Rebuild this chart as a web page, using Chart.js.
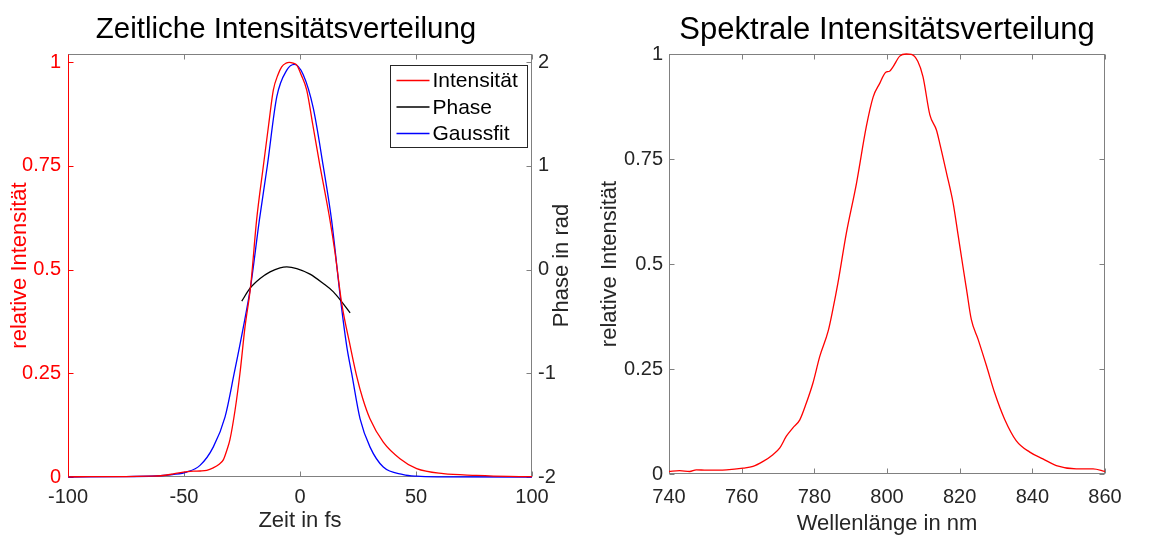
<!DOCTYPE html>
<html>
<head>
<meta charset="utf-8">
<script src="https://cdn.jsdelivr.net/npm/chart.js@4.4.1/dist/chart.umd.min.js"></script>
<style>
  html, body { margin: 0; padding: 0; background: #fff; }
  #wrap { position: relative; width: 1170px; height: 538px; }
  canvas { position: absolute; top: 0; }
  #zeit { left: 0; }
  #spektrum { left: 585px; }
</style>
</head>
<body>
<div id="wrap">
  <canvas id="zeit" width="585" height="538"></canvas>
  <canvas id="spektrum" width="585" height="538"></canvas>
</div>
<script>
'use strict';

// tick labels
var timeTicks = [-100, -50, 0, 50, 100];
var intensityTicks = [0, 0.25, 0.5, 0.75, 1];
var phaseTicks = [-2, -1, 0, 1, 2];
var wavelengthTicks = [740, 760, 780, 800, 820, 840, 860];
var spectrumTicks = [0, 0.25, 0.5, 0.75, 1];

// Intensität (measured pulse)
var intensityTime = [-100, -90, -75, -65, -60, -55, -50.3, -46, -43, -40.2, -37.4, -35, -33, -31.5, -30.2, -28,
  -25.9, -23.7, -21.3, -18.7, -15.8, -13.5, -11.5, -9.5, -7.9, -6, -4.6, -3, -1.4, 0.5, 2.9, 5.5, 8.6,
  10.8, 12.9, 15, 18, 21.6, 24.4, 27, 30.2, 35.9, 43.1, 50.3, 61.8, 76, 90, 100];
var intensityValues = [0.0005, 0.0008, 0.001, 0.002, 0.003, 0.007, 0.012, 0.014, 0.0145, 0.016, 0.022, 0.03, 0.042, 0.065, 0.09, 0.161,
  0.249, 0.362, 0.459, 0.62, 0.75, 0.85, 0.933, 0.97, 0.989, 0.998, 1.0, 0.998, 0.993, 0.97, 0.933, 0.85, 0.75,
  0.685, 0.62, 0.545, 0.418, 0.317, 0.244, 0.19, 0.14, 0.084, 0.044, 0.02, 0.008, 0.004, 0.0015, 0.001];

// Phase (right axis)
var phaseTime = [-25.1, -21.6, -17.2, -12.9, -8.6, -5.7, -1.4, 4.3, 10.0, 14.4, 18.0, 21.6];
var phaseValues = [-0.304, -0.181, -0.085, -0.021, 0.018, 0.027, 0.011, -0.043, -0.133, -0.214, -0.31, -0.416];

// Gaussfit
var gaussTime = [-100, -75, -60.3, -55, -48.8, -43.1, -37.4, -32.3, -28.4, -24.4, -21.3, -17.5, -14.1, -10, -5.7,
  -2.4, 1.4, 5.7, 10, 13.6, 17.7, 20.1, 22.3, 25.9, 30.2, 35.9, 44.5, 50.3, 60, 100];
var gaussValues = [0, 0.001, 0.003, 0.006, 0.012, 0.028, 0.072, 0.145, 0.249, 0.362, 0.459, 0.62, 0.75, 0.917, 0.981,
  0.995, 0.97, 0.89, 0.75, 0.62, 0.418, 0.317, 0.249, 0.14, 0.072, 0.024, 0.006, 0.002, 0.0005, 0];

// spectrum
var wavelength = [740, 742.9, 745.7, 747.5, 750.3, 755.8, 760.4, 763.1, 765.9, 768.6, 770.5, 772.3, 774.1, 776.0,
  777.8, 779.6, 781.5, 783.8, 785.1, 786.5, 788.8, 791.6, 794.3, 796.2, 798.0, 799.6, 800.7, 801.7, 803.5, 805.3,
  806.7, 808.5, 809.9, 811.8, 813.6, 814.5, 816.4, 818.2, 819.5, 820.9, 821.9, 823.2, 825.1, 827.4, 829.6, 832.4,
  835.6, 839.3, 842.9, 846.6, 852.1, 856.7, 860];
var spectrum = [0.006, 0.008, 0.006, 0.010, 0.009, 0.010, 0.014, 0.018, 0.030, 0.046, 0.062, 0.090, 0.110, 0.129,
  0.169, 0.216, 0.280, 0.340, 0.392, 0.455, 0.573, 0.692, 0.827, 0.898, 0.930, 0.956, 0.959, 0.970, 0.995, 1.0,
  0.999, 0.982, 0.946, 0.855, 0.819, 0.788, 0.716, 0.645, 0.573, 0.494, 0.439, 0.368, 0.320, 0.257, 0.194, 0.130,
  0.079, 0.052, 0.036, 0.020, 0.012, 0.012, 0.006];

var FONT = '"Liberation Sans", Arial, Helvetica, sans-serif';
var TEXT = '#262626';
var FRAME = '#808080';

function pairs(xs, ys) {
  return xs.map(function (x, i) { return {x: x, y: ys[i]}; });
}

function fixedTicks(list) {
  return function (scale) {
    scale.ticks = list.map(function (v) { return {value: v}; });
  };
}

// box round the axes, ticks pointing inwards
var frameAndTicks = {
  id: 'frameAndTicks',
  beforeDatasetsDraw: function (chart, args, opts) {
    var ctx = chart.ctx, a = chart.chartArea;
    var L = Math.round(a.left) + 0.5, R = Math.round(a.right) - 0.5;
    var T = Math.round(a.top) + 0.5, B = Math.round(a.bottom) - 0.5;
    ctx.save();
    ctx.lineWidth = 1;
    opts.marks.forEach(function (m) {
      var s = chart.scales[m.scale];
      ctx.strokeStyle = m.color;
      ctx.beginPath();
      s.ticks.forEach(function (t) {
        var p = Math.round(s.getPixelForValue(t.value)) + 0.5;
        m.sides.forEach(function (side) {
          if (side === 'bottom') { ctx.moveTo(p, B); ctx.lineTo(p, B - 5); }
          if (side === 'top') { ctx.moveTo(p, T); ctx.lineTo(p, T + 5); }
          if (side === 'left') { ctx.moveTo(L, p); ctx.lineTo(L + 5, p); }
          if (side === 'right') { ctx.moveTo(R, p); ctx.lineTo(R - 5, p); }
        });
      });
      ctx.stroke();
    });
    ctx.strokeStyle = FRAME;
    ctx.strokeRect(L, T, R - L, B - T);
    if (opts.leftColor) {
      ctx.strokeStyle = opts.leftColor;
      ctx.beginPath(); ctx.moveTo(L, T); ctx.lineTo(L, B); ctx.stroke();
    }
    ctx.restore();
  }
};

// title above the axes
var axesTitle = {
  id: 'axesTitle',
  afterDraw: function (chart, args, opts) {
    var ctx = chart.ctx, a = chart.chartArea;
    ctx.save();
    ctx.font = opts.size + 'px ' + FONT;
    ctx.fillStyle = '#000';
    ctx.textAlign = 'center';
    ctx.textBaseline = 'middle';
    ctx.fillText(opts.text, (a.left + a.right) / 2 + opts.dx, opts.y);
    ctx.restore();
  }
};

// right axis title, read from bottom to top
var rightTitle = {
  id: 'rightTitle',
  afterDraw: function (chart, args, opts) {
    var ctx = chart.ctx, a = chart.chartArea;
    ctx.save();
    ctx.translate(a.right + opts.offset, (a.top + a.bottom) / 2);
    ctx.rotate(-Math.PI / 2);
    ctx.font = opts.size + 'px ' + FONT;
    ctx.fillStyle = TEXT;
    ctx.textAlign = 'center';
    ctx.textBaseline = 'middle';
    ctx.fillText(opts.text, 0, 0);
    ctx.restore();
  }
};

// legend with a box, top right inside the axes
var boxLegend = {
  id: 'boxLegend',
  afterDraw: function (chart) {
    var ctx = chart.ctx, a = chart.chartArea;
    var sets = chart.data.datasets;
    ctx.save();
    ctx.font = '21px ' + FONT;
    var tw = 0;
    sets.forEach(function (d) { tw = Math.max(tw, ctx.measureText(d.label).width); });
    var w = Math.round(42 + tw + 10), h = 82;
    var x0 = Math.round(a.right - 5 - w) + 0.5, y0 = Math.round(a.top + 11) + 0.5;
    ctx.fillStyle = '#fff';
    ctx.fillRect(x0, y0, w, h);
    ctx.strokeStyle = TEXT;
    ctx.lineWidth = 1;
    ctx.strokeRect(x0, y0, w, h);
    sets.forEach(function (d, i) {
      var cy = y0 + 15 + i * 26.5;
      ctx.strokeStyle = d.borderColor;
      ctx.lineWidth = d.borderWidth;
      ctx.beginPath(); ctx.moveTo(x0 + 6, cy); ctx.lineTo(x0 + 39, cy); ctx.stroke();
      ctx.fillStyle = '#000';
      ctx.textBaseline = 'middle';
      ctx.fillText(d.label, x0 + 42, cy + 1);
    });
    ctx.restore();
  }
};

function line(label, data, color, axis) {
  return {
    label: label, data: data, yAxisID: axis,
    borderColor: color, borderWidth: 1.3, pointRadius: 0,
    fill: false, cubicInterpolationMode: 'monotone', clip: 4
  };
}

function tickFont() { return {family: FONT, size: 20}; }

var noGrid = {display: false, drawTicks: false};

new Chart(document.getElementById('zeit'), {
  type: 'line',
  data: {
    datasets: [
      line('Intensität', pairs(intensityTime, intensityValues), '#ff0000', 'y'),
      line('Phase', pairs(phaseTime, phaseValues), '#000000', 'y1'),
      line('Gaussfit', pairs(gaussTime, gaussValues), '#0000ff', 'y')
    ]
  },
  options: {
    responsive: false, animation: false, devicePixelRatio: 1,
    layout: {padding: {top: 54}},
    scales: {
      x: {
        type: 'linear', min: -100, max: 100,
        afterBuildTicks: fixedTicks(timeTicks),
        afterFit: function (s) { s.height = 61; },
        grid: noGrid, border: {display: false},
        ticks: {color: TEXT, font: tickFont(), padding: 8, maxRotation: 0,
          callback: function (v) { return String(v); }},
        title: {display: true, text: 'Zeit in fs', color: TEXT,
          font: {family: FONT, size: 22}, padding: {top: 0, bottom: 4}}
      },
      y: {
        type: 'linear', position: 'left', min: 0, max: 1.02,
        afterBuildTicks: fixedTicks(intensityTicks),
        afterFit: function (s) { s.width = 68; },
        grid: noGrid, border: {display: false},
        ticks: {color: '#ff0000', font: tickFont(), padding: 7,
          callback: function (v) { return String(v); }},
        title: {display: true, text: 'relative Intensität', color: '#ff0000',
          font: {family: FONT, size: 22}, padding: {top: 7, bottom: 0}}
      },
      y1: {
        type: 'linear', position: 'right', min: -2, max: 2.08,
        afterBuildTicks: fixedTicks(phaseTicks),
        afterFit: function (s) { s.width = 53; },
        grid: noGrid, border: {display: false},
        ticks: {color: TEXT, font: tickFont(), padding: 6,
          callback: function (v) { return String(v); }}
      }
    },
    plugins: {
      legend: {display: false},
      tooltip: {enabled: false},
      axesTitle: {text: 'Zeitliche Intensitätsverteilung', size: 29.5, dx: -14, y: 30},
      frameAndTicks: {
        leftColor: '#ff0000',
        marks: [
          {scale: 'x', sides: ['bottom', 'top'], color: FRAME},
          {scale: 'y', sides: ['left'], color: '#ff0000'},
          {scale: 'y1', sides: ['right'], color: FRAME}
        ]
      },
      rightTitle: {text: 'Phase in rad', offset: 30, size: 22}
    }
  },
  plugins: [frameAndTicks, axesTitle, rightTitle, boxLegend]
});

new Chart(document.getElementById('spektrum'), {
  type: 'line',
  data: {
    datasets: [
      line('Spektrum', pairs(wavelength, spectrum), '#ff0000', 'y')
    ]
  },
  options: {
    responsive: false, animation: false, devicePixelRatio: 1,
    layout: {padding: {top: 54, right: 65}},
    scales: {
      x: {
        type: 'linear', min: 740, max: 860,
        afterBuildTicks: fixedTicks(wavelengthTicks),
        afterFit: function (s) { s.height = 64; },
        grid: noGrid, border: {display: false},
        ticks: {color: TEXT, font: tickFont(), padding: 11, maxRotation: 0,
          callback: function (v) { return String(v); }},
        title: {display: true, text: 'Wellenlänge in nm', color: TEXT,
          font: {family: FONT, size: 22}, padding: {top: 0, bottom: 1}}
      },
      y: {
        type: 'linear', position: 'left', min: 0, max: 1,
        afterBuildTicks: fixedTicks(spectrumTicks),
        afterFit: function (s) { s.width = 84; },
        grid: noGrid, border: {display: false},
        ticks: {color: TEXT, font: tickFont(), padding: 6,
          callback: function (v) { return String(v); }},
        title: {display: true, text: 'relative Intensität', color: TEXT,
          font: {family: FONT, size: 22}, padding: {top: 12, bottom: 0}}
      }
    },
    plugins: {
      legend: {display: false},
      tooltip: {enabled: false},
      axesTitle: {text: 'Spektrale Intensitätsverteilung', size: 31, dx: 0, y: 30},
      frameAndTicks: {
        marks: [
          {scale: 'x', sides: ['bottom', 'top'], color: FRAME},
          {scale: 'y', sides: ['left', 'right'], color: FRAME}
        ]
      }
    }
  },
  plugins: [frameAndTicks, axesTitle]
});
</script>
</body>
</html>
